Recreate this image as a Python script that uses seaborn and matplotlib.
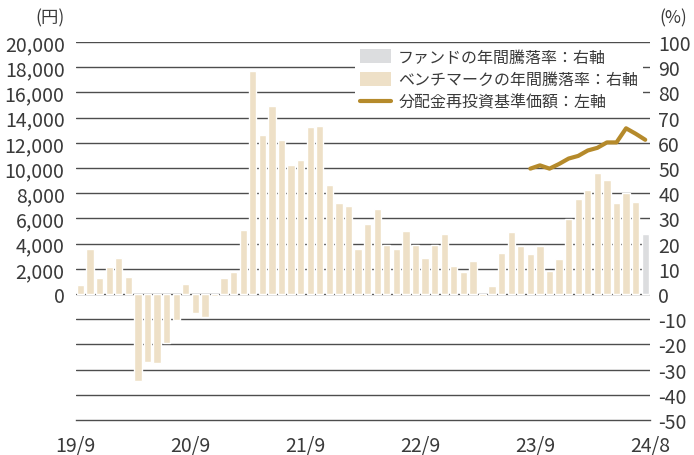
import matplotlib
matplotlib.use("Agg")
import matplotlib.pyplot as plt
from matplotlib.patches import Patch
from matplotlib.lines import Line2D
import numpy as np
import pandas as pd
import seaborn as sns

# months 19/9 .. 24/8
months = [f"{d.year % 100}/{d.month}" for d in pd.date_range("2019-09-01", "2024-08-01", freq="MS")]

# benchmark annual return (%), right axis; last month has no value
benchmark_return = [
    3.6, 17.9, 6.3, 10.7, 14.3, 6.7, -34.4, -26.9, -27.4, -19.4, -10.3, 4.0,
    -7.5, -9.1, -0.8, 6.3, 8.7, 25.4, 88.5, 63.1, 74.6, 61.1, 51.2, 53.2,
    66.3, 66.7, 43.4, 36.1, 34.9, 17.9, 27.8, 33.7, 19.4, 17.9, 25.0, 19.4,
    14.3, 19.4, 23.8, 11.1, 8.7, 13.1, -0.8, 3.0, 16.1, 24.5, 18.9, 15.7,
    18.9, 9.0, 13.8, 29.6, 37.6, 41.1, 47.9, 45.1, 36.0, 39.9, 36.4, np.nan,
]

# fund annual return (%), right axis; only the last month
fund_return = [np.nan] * 59 + [23.7]

# NAV with dividends reinvested (yen), left axis; from 23/8
nav_start = 47
nav_values = [9950, 10210, 9950, 10320, 10750, 10960, 11390,
              11600, 12030, 12030, 13150, 12720, 12240]

xtick_labels = ["19/9", "20/9", "21/9", "22/9", "23/9", "24/8"]

BEIGE = "#EEE0C7"
GRAY = "#DCDDDF"
GOLD = "#B58A2B"
GRID = "#4d4d4d"
TEXT = "#3a3a3a"

sns.set_style("white")
plt.rcParams["font.family"] = ["Noto Sans CJK JP", "DejaVu Sans"]
plt.rcParams["axes.unicode_minus"] = False

fig = plt.figure(figsize=(6.94, 4.56), dpi=100)
ax = fig.add_axes([75.7 / 694, 1 - 421 / 456, (650 - 75.7) / 694, (421 - 43) / 456])

df = pd.DataFrame({"month": months, "benchmark": benchmark_return, "fund": fund_return})

sns.barplot(data=df, x="month", y="benchmark", order=months, color=BEIGE,
            saturation=1, width=0.75, ax=ax)
sns.barplot(data=df, x="month", y="fund", order=months, color=GRAY,
            saturation=1, width=0.75, ax=ax)

# left axis: yen
ax_left = ax.twinx()
ax_left.yaxis.tick_left()
ax.yaxis.tick_right()

ax.set_ylim(-50, 100)
ax.set_yticks(np.arange(-50, 101, 10))
ax.set_xlim(-0.5, len(months) - 0.5)
ax.set_xlabel("")
ax.set_ylabel("")
ax.tick_params(axis="y", length=0, pad=6, labelsize=14, labelcolor=TEXT)
ax.set_xticks(np.arange(-0.5, len(months), 12))
ax.set_xticklabels(xtick_labels)
ax.tick_params(axis="x", direction="in", length=7, width=1, color=GRID,
               pad=11, labelsize=14, labelcolor=TEXT)

# horizontal grid lines (below bars)
ax.set_axisbelow(True)
for v in range(-40, 101, 10):
    ax.axhline(v, color=GRID, lw=1.0, zorder=0)

for side in ["top", "left", "right"]:
    ax.spines[side].set_visible(False)
ax.spines["bottom"].set_color(GRID)
ax.spines["bottom"].set_linewidth(1.0)

x_nav = np.arange(nav_start, nav_start + len(nav_values))
sns.lineplot(x=x_nav, y=nav_values, color=GOLD, lw=3, ax=ax_left)
ax_left.set_ylim(-10000, 20000)
ax_left.set_yticks(np.arange(0, 20001, 2000))
ax_left.set_yticklabels([f"{v:,}" for v in range(0, 20001, 2000)])
ax_left.tick_params(axis="y", length=0, pad=8, labelsize=14, labelcolor=TEXT)
ax_left.set_ylabel("")
for side in ["top", "left", "right", "bottom"]:
    ax_left.spines[side].set_visible(False)

fig.text(50 / 694, 1 - 18 / 456, "(円)", ha="center", va="center", fontsize=12.5, color=TEXT)
fig.text(673 / 694, 1 - 18 / 456, "(%)", ha="center", va="center", fontsize=12.5, color=TEXT)

handles = [
    Patch(facecolor=GRAY, edgecolor="none"),
    Patch(facecolor=BEIGE, edgecolor="none"),
    Line2D([0], [0], color=GOLD, lw=3),
]
labels = ["ファンドの年間騰落率：右軸", "ベンチマークの年間騰落率：右軸", "分配金再投資基準価額：左軸"]
leg = ax_left.legend(handles, labels, loc="upper left",
                     bbox_to_anchor=((355 - 75.7) / 574.3, 0.995),
                     frameon=True, facecolor="white", edgecolor="none", framealpha=1,
                     fancybox=False, fontsize=11.5, handlelength=1.95, handleheight=1.0,
                     handletextpad=0.45, labelspacing=0.35, borderpad=0.3,
                     borderaxespad=0)
for t in leg.get_texts():
    t.set_color(TEXT)

fig.savefig("out.png", dpi=100)
